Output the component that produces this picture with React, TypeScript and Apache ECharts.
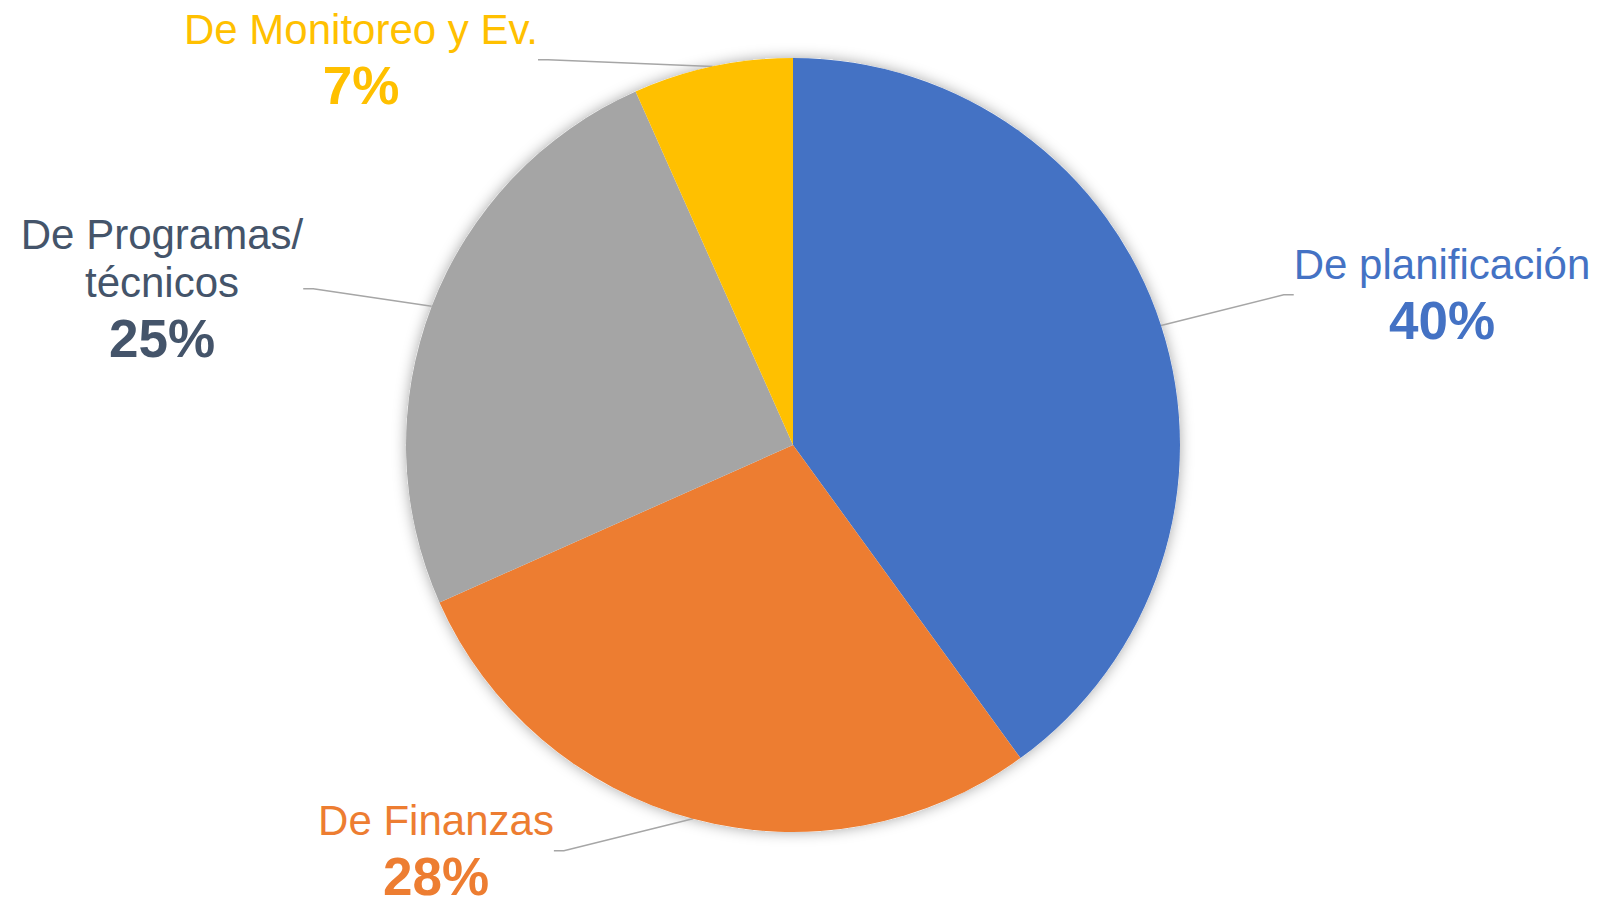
import React, { useEffect, useRef } from "react";
import * as echarts from "echarts";

const categories = ["De planificación", "De Finanzas", "De Programas/\ntécnicos", "De Monitoreo y Ev."];
const values = [24, 17, 15, 4];
const sliceColors = ["#4472C4", "#ED7D31", "#A5A5A5", "#FFC000"];
const labelColors = ["#4472C4", "#ED7D31", "#44546A", "#FFC000"];
// label block anchor (top-center), in px
const labelPos: [number, number][] = [
  [1442, 240],
  [436, 796],
  [162, 210],
  [361, 5],
];

const FONT = "'Liberation Sans', Arial, Helvetica, sans-serif";

export default function App() {
  const ref = useRef<HTMLDivElement>(null);
  useEffect(() => {
    if (!ref.current) return;
    const chart = echarts.init(ref.current, null, { renderer: "svg" });
    const data = categories.map((name, i) => ({
      name,
      value: values[i],
      itemStyle: { color: sliceColors[i] },
      label: {
        rich: {
          name: { fontSize: 42, lineHeight: 48, color: labelColors[i], fontFamily: FONT, align: "center" },
          pct: { fontSize: 53, lineHeight: 64, fontWeight: "bold", color: labelColors[i], fontFamily: FONT, align: "center" },
        },
      },
    }));
    chart.setOption({
      animation: false,
      backgroundColor: "#ffffff",
      series: [
        {
          type: "pie",
          silent: true,
          center: [793, 445],
          radius: 387,
          z: 1,
          label: { show: false },
          labelLine: { show: false },
          itemStyle: {
            color: "#ffffff",
            shadowBlur: 14,
            shadowColor: "rgba(0,0,0,0.35)",
          },
          data: [{ value: 1, name: "" }],
        },
        {
          type: "pie",
          center: [793, 445],
          radius: 387,
          startAngle: 90,
          clockwise: true,
          z: 2,
          label: {
            show: true,
            position: "outside",
            fontFamily: FONT,
            formatter: (p: any) => `{name|${p.name.split("\n").join("}\n{name|")}}\n{pct|${Math.round(p.percent)}%}`,
          },
          labelLine: {
            show: true,
            length: 20,
            length2: 10,
            lineStyle: { color: "#A6A6A6", width: 1.5 },
          },
          labelLayout: (params: any) => {
            const [x, y] = labelPos[params.dataIndex];
            return { x, y, align: "center", verticalAlign: "top", hideOverlap: false, moveOverlap: false };
          },
          data,
        },
      ],
    });
    return () => chart.dispose();
  }, []);
  return (
    <div
      ref={ref}
      style={{ position: "fixed", left: 0, top: 0, width: 1602, height: 907 }}
    />
  );
}
